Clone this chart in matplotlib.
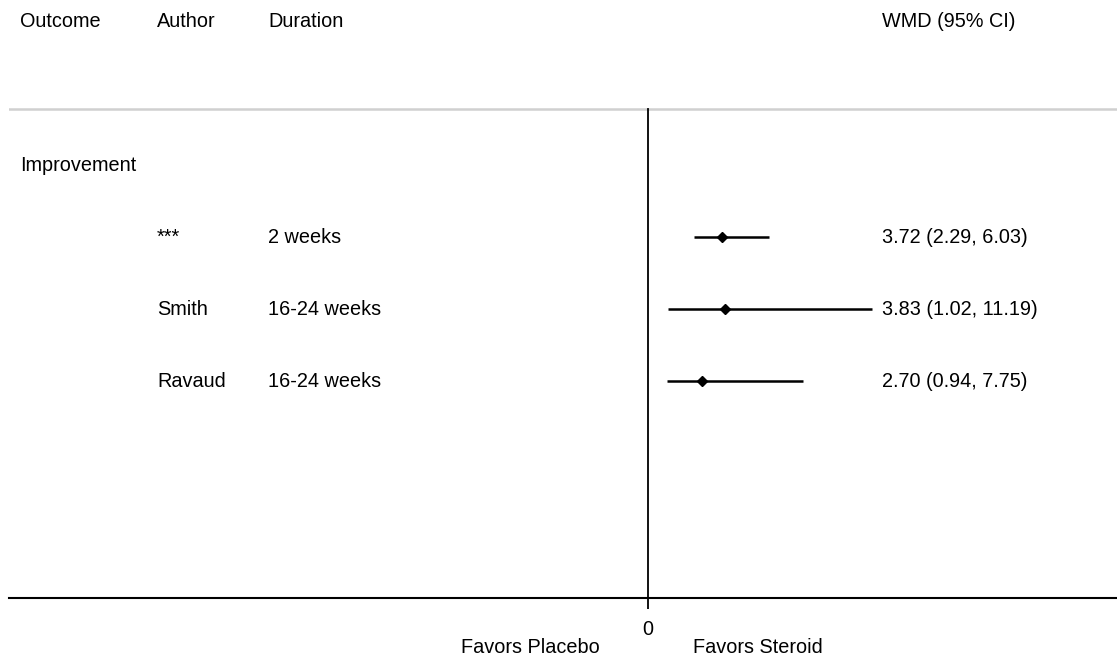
import matplotlib.pyplot as plt

plt.rcParams["font.family"] = ["Liberation Sans", "DejaVu Sans"]
plt.rcParams["font.size"] = 14.3

# study rows (top to bottom)
authors = ["***", "Smith", "Ravaud"]
durations = ["2 weeks", "16-24 weeks", "16-24 weeks"]
wmd = [3.72, 3.83, 2.70]
ci_low = [2.29, 1.02, 0.94]
ci_high = [6.03, 11.19, 7.75]
outcome = "Improvement"

# column positions in data units (x = 0 is the null line)
X_OUTCOME = -31.4
X_AUTHOR = -24.55
X_DURATION = -19.0
X_EST = 11.7


def main():
    fig = plt.figure(figsize=(11.17, 6.63), dpi=100)
    ax = fig.add_axes([9 / 1117, 65 / 663, 1108 / 1117, 598 / 663])
    ax.set_xlim(-31.95, 23.45)
    ax.set_ylim(-3.014, 5.292)

    n = len(authors)
    ys = [n - 1 - i for i in range(n)]

    # header
    header_y = 5.0
    ax.text(X_OUTCOME, header_y, "Outcome", va="center")
    ax.text(X_AUTHOR, header_y, "Author", va="center")
    ax.text(X_DURATION, header_y, "Duration", va="center")
    ax.text(X_EST, header_y, "WMD (95% CI)", va="center")
    ax.axhline(3.78, color="#d0d0d0", lw=1.8)

    ax.text(X_OUTCOME, n, outcome, va="center")

    for y, a, d, est, lo, hi in zip(ys, authors, durations, wmd, ci_low, ci_high):
        ax.plot([lo, hi], [y, y], color="black", lw=1.8, solid_capstyle="butt")
        ax.plot(est, y, marker="D", color="black", ms=5)
        ax.text(X_AUTHOR, y, a, va="center")
        ax.text(X_DURATION, y, d, va="center")
        ax.text(X_EST, y, f"{est:.2f} ({lo:.2f}, {hi:.2f})", va="center")

    ax.plot([0, 0], [-3.014, 3.78], color="black", lw=1.3)

    for s in ["top", "left", "right"]:
        ax.spines[s].set_visible(False)
    ax.spines["bottom"].set_linewidth(1.5)
    ax.set_yticks([])
    ax.set_xticks([0])
    ax.tick_params(axis="x", length=8, width=1.3, pad=8)

    ax.text(-2.4, -0.083, "Favors Placebo", transform=ax.get_xaxis_transform(),
            ha="right", va="center")
    ax.text(2.25, -0.083, "Favors Steroid", transform=ax.get_xaxis_transform(),
            ha="left", va="center")

    fig.savefig("out.png", dpi=100)


if __name__ == "__main__":
    main()
